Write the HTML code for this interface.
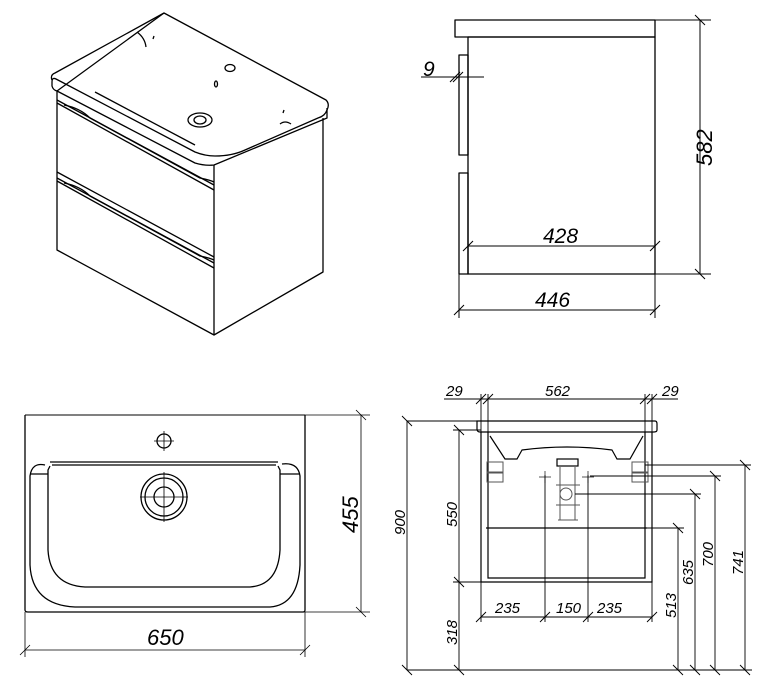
<!DOCTYPE html>
<html><head><meta charset="utf-8"><style>
html,body{margin:0;padding:0;background:#fff}
svg{display:block}
text{font-family:"Liberation Sans",sans-serif;font-style:italic;fill:#000}
</style></head><body>
<svg width="760" height="694" viewBox="0 0 760 694" xmlns="http://www.w3.org/2000/svg">
<g fill="none" stroke="#000" stroke-width="1.3" stroke-linejoin="round">
<!-- isometric -->
<path d="M164,13 L326,100 Q330,104 327,110 Q325,116 318,118 L245,150 Q232,156 215,156 Q205,156 195,152 L56,79 Q52,77 52,82 L52,86 Q53,90 57,91 Z" transform="translate(0,0)"/>
<path d="M52,80 Q50,75 55,73 L164,13"/>
<path d="M57,91 L195,163 Q205,166 214,165 L327,118 L327,108"/>
<path d="M214,165 L214,335 L323,272 L323,118"/>
<path d="M57,91 L57,250 L214,335"/>
<path d="M57,100 L214,185 M57,103 L214,190"/>
<path d="M57,172 L214,257 M57,178 L214,263 M57,181 L214,268"/>
<path d="M64,105 Q80,108 90,118 L200,178 Q210,180 214,182"/>
<path d="M64,183 Q80,186 90,196 L200,256 Q210,258 214,260"/>
<path d="M95,92 L195,145"/>
<ellipse cx="200" cy="120" rx="12" ry="7"/>
<ellipse cx="200" cy="120" rx="6" ry="4"/>
<ellipse cx="230" cy="68" rx="5" ry="3.5"/>
<ellipse cx="216" cy="84" rx="1.5" ry="3"/>
<path d="M137,32 Q145,38 146,47 M154,36 L153,39 M284,110 L283,113 M280,124 Q285,120 291,124"/>
<!-- side view -->
<rect x="455" y="20" width="200" height="17"/>
<rect x="468" y="37" width="187" height="237"/>
<rect x="459" y="55" width="9" height="100"/>
<rect x="459" y="173" width="9" height="101"/>
</g>
<g fill="none" stroke="#000" stroke-width="1">
<path d="M421,77 L484,77 M655,20 L711,20 M655,274 L711,274 M700,20 L700,274 M468,246 L655,246 M459,274 L459,318 M655,274 L655,318 M459,310 L655,310"/>
<path d="M695,15 L705,25 M695,269 L705,279 M463,251 L473,241 M650,251 L660,241 M454,315 L464,305 M650,315 L660,305 M450,82 L460,72 M453,82 L463,72"/>
</g>
<text x="423" y="76" font-size="21">9</text>
<text x="543" y="243" font-size="21">428</text>
<text x="535" y="307" font-size="21">446</text>
<text transform="translate(712,166) rotate(-90)" font-size="22">582</text>
<!-- top view -->
<g fill="none" stroke="#000" stroke-width="1.3">
<path d="M25,415 L25,610 Q25,612 28,612 L303,612 Q305,612 305,610 L305,415"/>
<path d="M25,415 L305,415" stroke-width="1"/>
<path d="M50,462 L278,462 M52,465 L276,465"/>
<path d="M45,465 Q32,462 30,476 L30,565 Q32,605 75,607 L270,607 Q298,605 300,565 L300,476 Q298,462 282,464"/>
<path d="M50,466 L48,470 L48,550 Q50,585 85,587 L250,587 Q278,585 280,550 L280,470 L278,466"/>
<path d="M30,474 L48,474 M280,474 L300,474"/>
<circle cx="164" cy="497" r="23"/><circle cx="164" cy="497" r="19"/><circle cx="164" cy="497" r="10"/>
<circle cx="164" cy="441" r="7"/>
</g>
<g fill="none" stroke="#000" stroke-width="0.8">
<path d="M140,497 L188,497 M164,472 L164,522 M154,441 L174,441 M164,431 L164,451 M160,465 L168,465"/>
<path d="M305,415 L370,415 M305,612 L370,612 M361,415 L361,612 M25,612 L25,657 M305,612 L305,657 M25,650 L305,650"/>
<path d="M356,410 L366,420 M356,607 L366,617 M20,655 L30,645 M300,655 L310,645"/>
</g>
<text x="147" y="645" font-size="22">650</text>
<text transform="translate(358,533) rotate(-90)" font-size="22">455</text>
<!-- front view -->
<g fill="none" stroke="#000" stroke-width="1.2">
<path d="M477,421 L655,421 Q657,421 657,424 L657,430 Q657,432 654,432 L480,432 Q477,432 477,429 Z"/>
<path d="M481,432 L481,582 L652,582 L652,432 M488,432 L488,578 L645,578 L645,432 M486,528 L647,528"/>
<path d="M490,436 L505,459 L517,459 L522,450 Q567,444 612,450 L617,459 L630,459 L643,436"/>
<rect x="557" y="459" width="21" height="7"/>
</g>
<g fill="none" stroke="#555" stroke-width="1">
<rect x="487" y="462" width="16" height="10"/><rect x="487" y="473" width="16" height="9"/>
<rect x="632" y="462" width="16" height="10"/><rect x="632" y="473" width="16" height="9"/>
<path d="M560,467 L560,520 M575,467 L575,520 M556,485 L580,485 M556,505 L580,505 M558,520 L578,520"/>
<circle cx="566" cy="494" r="6"/>
<path d="M539,477 L551,477 M545,471 L545,483 M582,477 L594,477 M588,471 L588,483"/>
</g>
<g fill="none" stroke="#000" stroke-width="0.9">
<path d="M444,399 L678,399 M481,394 L481,432 M488,394 L488,432 M645,394 L645,432 M652,394 L652,432"/>
<path d="M476,404 L486,394 M483,404 L493,394 M640,404 L650,394 M647,404 L657,394"/>
<path d="M407,421 L477,421 M407,421 L407,670 M453,430 L481,430 M459,430 L459,670 M453,582 L481,582 M407,670 L752,670"/>
<path d="M402,416 L412,426 M402,665 L412,675 M454,425 L464,435 M454,577 L464,587 M454,665 L464,675"/>
<path d="M481,582 L481,622 M652,582 L652,622 M481,617 L652,617 M545,475 L545,622 M588,475 L588,622"/>
<path d="M476,622 L486,612 M540,622 L550,612 M583,622 L593,612 M647,622 L657,612"/>
<path d="M647,528 L684,528 M678,528 L678,670 M575,494 L701,494 M695,494 L695,670 M590,476 L721,476 M715,476 L715,670 M645,465 L751,465 M745,465 L745,670"/>
<path d="M673,523 L683,533 M690,489 L700,499 M710,471 L720,481 M740,460 L750,470 M673,665 L683,675 M690,665 L700,675 M710,665 L720,675 M740,665 L750,675"/>
</g>
<g font-size="15">
<text x="446" y="396">29</text>
<text x="545" y="396">562</text>
<text x="662" y="396">29</text>
<text x="495" y="613">235</text>
<text x="556" y="613">150</text>
<text x="597" y="613">235</text>
<text transform="translate(405,535) rotate(-90)">900</text>
<text transform="translate(457,527) rotate(-90)">550</text>
<text transform="translate(457,645) rotate(-90)">318</text>
<text transform="translate(676,618) rotate(-90)">513</text>
<text transform="translate(693,585) rotate(-90)">635</text>
<text transform="translate(713,567) rotate(-90)">700</text>
<text transform="translate(743,575) rotate(-90)">741</text>
</g>
</svg>
</body></html>
